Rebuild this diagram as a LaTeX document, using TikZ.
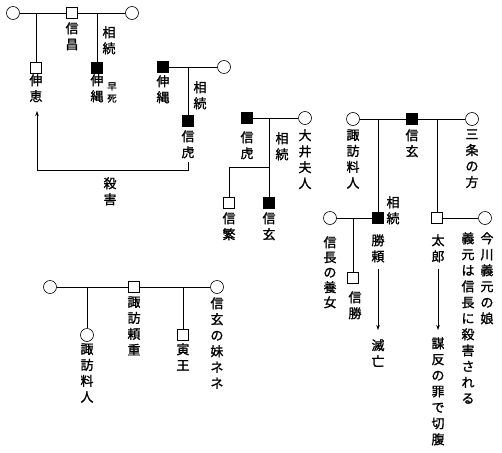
\documentclass[tikz,border=0pt]{standalone}
\usepackage{fontspec}
\newfontfamily\cjk[FakeBold=1.2]{Noto Sans CJK JP}
\usetikzlibrary{arrows.meta}
\begin{document}
\begin{tikzpicture}[x=1pt,y=-1pt,
  line width=0.6pt,
  male/.style={draw,rectangle,minimum size=11pt,inner sep=0pt,fill=white},
  dead/.style={male,fill=black},
  female/.style={draw,circle,minimum size=13pt,inner sep=0pt,fill=white},
  vlab/.style={font=\cjk\fontsize{13}{16}\selectfont,align=center,inner sep=0pt,anchor=north},
  vlabn/.style={font=\cjk\fontsize{13}{15}\selectfont,align=center,inner sep=0pt,anchor=north},
  slab/.style={font=\cjk\fontsize{9.5}{12}\selectfont,align=center,inner sep=0pt,anchor=north},
  arr/.style={-{Stealth[length=5pt,width=3.5pt]}}]
\useasboundingbox (0,0) rectangle (502,452);
\fill[white] (0,0) rectangle (502,452);

% ---------- Group A
\node[female] (fA1) at (13,13) {};
\node[male] (nobumasa) at (72,13) {};
\node[female] (fA2) at (132,13) {};
\node[male] (nobuyoshi) at (36,68) {};
\node[dead] (nobutsunaA) at (97,68) {};
\coordinate (jA1) at (36,13);
\coordinate (jA2) at (97,13);
\draw (fA1) -- (nobumasa) -- (fA2);
\draw (jA1) -- (nobuyoshi);
\draw (jA2) -- (nobutsunaA);
\node[vlab] (lNobumasa) at (72,22) {信\\昌};
\node[vlab] (lSozokuA) at (109,26) {相\\続};
\node[vlab] (lNobuyoshi) at (36,74) {伸\\恵};
\node[vlab] (lNobutsunaA) at (97,74) {伸\\縄};
\node[slab] (lSoshi) at (112,82) {早\\死};

% ---------- Group B
\node[dead] (nobutsunaB) at (163,67) {};
\node[female] (fB) at (224,67) {};
\node[dead] (torataB) at (188,121) {};
\coordinate (jB) at (188,67);
\draw (nobutsunaB) -- (fB);
\draw (jB) -- (torataB);
\node[vlab] (lNobutsunaB) at (163,75) {伸\\縄};
\node[vlab] (lSozokuB) at (200,81) {相\\続};
\node[vlab] (lTorataB) at (188,130) {信\\虎};
\coordinate (kStart) at (188,162);
\coordinate (kEnd) at (37,111);
\draw[arr] (kStart) -- (188,170) -| (kEnd);
\node[vlab] (lSatsugai) at (110,177) {殺\\害};

% ---------- Group C
\node[dead] (torataC) at (247,118) {};
\node[female] (oi) at (305,118) {};
\node[male] (nobushige) at (229,203) {};
\node[dead] (shingenC) at (269,203) {};
\coordinate (jC) at (269,118);
\coordinate (jC2) at (269,167);
\draw (torataC) -- (oi);
\draw (jC) -- (shingenC);
\draw (jC2) -| (nobushige);
\node[vlab] (lTorataC) at (247,131) {信\\虎};
\node[vlab] (lSozokuC) at (282,132) {相\\続};
\node[vlab] (lOi) at (305,129) {大\\井\\夫\\人};
\node[vlab] (lNobushige) at (229,212) {信\\繁};
\node[vlab] (lShingenC) at (269,212) {信\\玄};

% ---------- Group D
\node[female] (suwaD) at (353,119) {};
\node[dead] (shingenD) at (412,119) {};
\node[female] (sanjo) at (472,119) {};
\node[dead] (katsuyori) at (378,218) {};
\node[male] (taro) at (437,218) {};
\node[female] (yojo) at (330,218) {};
\node[male] (nobukatsu) at (353,278) {};
\node[female] (imagawa) at (485,218) {};
\coordinate (jD1) at (378,119);
\coordinate (jD2) at (437,119);
\coordinate (jD3) at (353,218);
\draw (suwaD) -- (shingenD) -- (sanjo);
\draw (jD1) -- (katsuyori);
\draw (jD2) -- (taro);
\draw (yojo) -- (katsuyori);
\draw (jD3) -- (nobukatsu);
\draw (taro) -- (imagawa);
\node[vlab] (lSuwaD) at (353,129) {諏\\訪\\料\\人};
\node[vlab] (lShingenD) at (412,129) {信\\玄};
\node[vlab] (lSanjo) at (472,129) {三\\条\\の\\方};
\node[vlab] (lSozokuD) at (393,196) {相\\続};
\node[vlabn] (lYojo) at (330,236) {信\\長\\の\\養\\女};
\node[vlab] (lNobukatsu) at (355,291) {信\\勝};
\node[vlab] (lKatsuyori) at (378,234) {勝\\頼};
\node[vlab] (lTaro) at (438,234) {太\\郎};
\node[vlab] (lMetsubo) at (378,339) {滅\\亡};
\node[vlab] (lMuhon) at (438,337) {謀\\反\\の\\罪\\で\\切\\腹};
\node[vlab] (lImagawa) at (487,232) {今\\川\\義\\元\\の\\娘};
\node[vlab] (lYoshimoto) at (468,232) {義\\元\\は\\信\\長\\に\\殺\\害\\さ\\れ\\る};
\draw[arr] (lKatsuyori.south) ++(0,6) coordinate (aK1) -- (lMetsubo.north |- 0,330) coordinate (aK2);
\draw[arr] (lTaro.south) ++(0,6) coordinate (aT1) -- (lMuhon.north |- 0,330) coordinate (aT2);

% ---------- Group E
\node[female] (fE1) at (50,287) {};
\node[male] (yorishige) at (134,287) {};
\node[female] (fE2) at (217,287) {};
\node[female] (suwaE) at (87,335) {};
\node[male] (toraoh) at (183,335) {};
\coordinate (jE1) at (87,287);
\coordinate (jE2) at (183,287);
\draw (fE1) -- (yorishige) -- (fE2);
\draw (jE1) -- (suwaE);
\draw (jE2) -- (toraoh);
\node[vlab] (lYorishige) at (134,296) {諏\\訪\\頼\\重};
\node[vlab] (lSuwaE) at (87,343) {諏\\訪\\料\\人};
\node[vlab] (lToraoh) at (183,343) {寅\\王};
\node[vlab] (lNene) at (217,297) {信\\玄\\の\\妹\\ネ\\ネ};
\end{tikzpicture}
\end{document}
